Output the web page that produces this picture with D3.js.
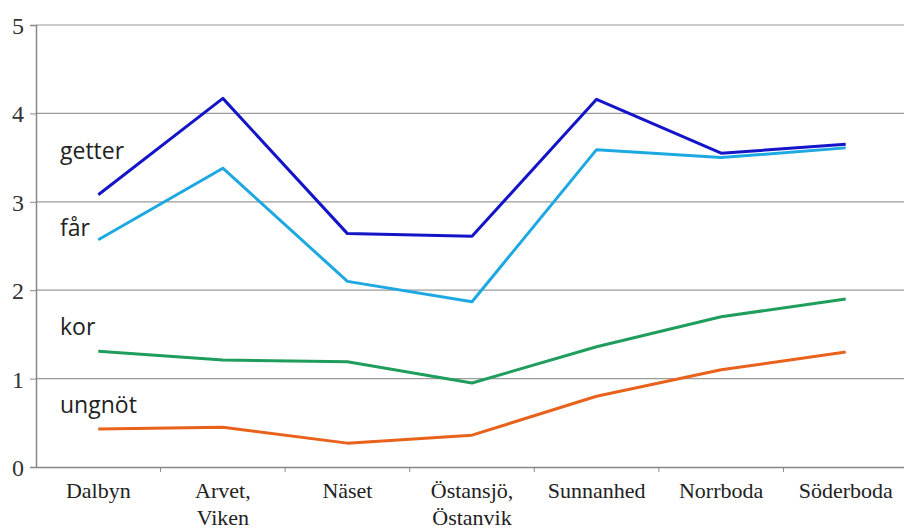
<!DOCTYPE html>
<html>
<head>
<meta charset="utf-8">
<script src="https://cdn.jsdelivr.net/npm/d3@7"></script>
<style>
body { margin: 0; background: #fff; }
</style>
</head>
<body>
<div class="chart"></div>
<script>
var categories = ["Dalbyn", "Arvet,\nViken", "Näset", "Östansjö,\nÖstanvik", "Sunnanhed", "Norrboda", "Söderboda"];
var seriesNames = ["getter", "får", "kor", "ungnöt"];
var getter = [3.08, 4.17, 2.64, 2.61, 4.16, 3.55, 3.65];
var far = [2.57, 3.38, 2.10, 1.87, 3.59, 3.50, 3.61];
var kor = [1.31, 1.21, 1.19, 0.95, 1.36, 1.70, 1.90];
var ungnot = [0.43, 0.45, 0.27, 0.36, 0.80, 1.10, 1.30];
var yTicks = [0, 1, 2, 3, 4, 5];

var width = 904, height = 530;
var margin = {top: 25, right: -4, bottom: 63, left: 36};

var svg = d3.select(".chart").append("svg")
    .attr("width", width)
    .attr("height", height);

var x = d3.scaleBand()
    .domain(categories)
    .range([margin.left, width - margin.right]);

var y = d3.scaleLinear()
    .domain([0, 5])
    .range([height - margin.bottom, margin.top]);

// grid
svg.append("g")
    .selectAll("line")
    .data(yTicks.slice(1))
    .enter().append("line")
    .attr("x1", margin.left)
    .attr("x2", width)
    .attr("y1", d => y(d))
    .attr("y2", d => y(d))
    .attr("stroke", "#9a9a9a")
    .attr("stroke-width", 1.2);

// y axis
var yAxis = svg.append("g")
    .attr("transform", `translate(${margin.left},0)`)
    .call(d3.axisLeft(y).tickValues(yTicks).tickSize(6).tickFormat(d3.format("d")));
yAxis.select(".domain").attr("stroke", "#888").attr("stroke-width", 1.5);
yAxis.selectAll(".tick line").attr("stroke", "#888");
yAxis.selectAll("text")
    .attr("font-family", "Liberation Serif, serif")
    .attr("font-size", 24)
    .attr("fill", "#333")
    .attr("x", -12)
    .attr("text-anchor", "end")
    .attr("dy", "0.35em");

// x axis
var xAxis = svg.append("g")
    .attr("transform", `translate(0,${y(0)})`)
    .call(d3.axisBottom(x).tickSize(0).tickFormat(""));
xAxis.select(".domain").attr("stroke", "#888").attr("stroke-width", 1.5);

svg.append("g")
    .selectAll("line")
    .data(categories)
    .enter().append("line")
    .attr("x1", d => x(d) + x.bandwidth())
    .attr("x2", d => x(d) + x.bandwidth())
    .attr("y1", y(0))
    .attr("y2", y(0) + 5)
    .attr("stroke", "#888");

var xl = svg.append("g")
    .selectAll("text")
    .data(categories)
    .enter().append("text")
    .attr("x", d => x(d) + x.bandwidth() / 2)
    .attr("y", y(0) + 31)
    .attr("text-anchor", "middle")
    .attr("font-family", "Liberation Serif, serif")
    .attr("font-size", 22)
    .attr("fill", "#222");
xl.each(function (d) {
    var parts = d.split("\n");
    var t = d3.select(this);
    parts.forEach(function (p, i) {
        t.append("tspan")
            .attr("x", x(d) + x.bandwidth() / 2)
            .attr("dy", i === 0 ? 0 : 27)
            .text(p);
    });
});

var data = [
    {name: "getter", values: getter, color: "#1414c8"},
    {name: "får", values: far, color: "#1ea8e2"},
    {name: "kor", values: kor, color: "#1f9d5c"},
    {name: "ungnöt", values: ungnot, color: "#e8621c"}
];

var line = d3.line()
    .x((d, i) => x(categories[i]) + x.bandwidth() / 2)
    .y(d => y(d));

svg.append("g")
    .selectAll("path")
    .data(data)
    .enter().append("path")
    .attr("d", d => line(d.values))
    .attr("fill", "none")
    .attr("stroke", d => d.color)
    .attr("stroke-width", 3)
    .attr("stroke-linejoin", "round");

// series labels
var labelY = [3.48, 2.61, 1.49, 0.61];
svg.append("g")
    .selectAll("text")
    .data(seriesNames)
    .enter().append("text")
    .attr("x", 60)
    .attr("y", (d, i) => y(labelY[i]))
    .attr("font-family", "Open Sans, sans-serif")
    .attr("font-size", 23)
    .attr("fill", "#222")
    .text(d => d);
</script>
</body>
</html>
